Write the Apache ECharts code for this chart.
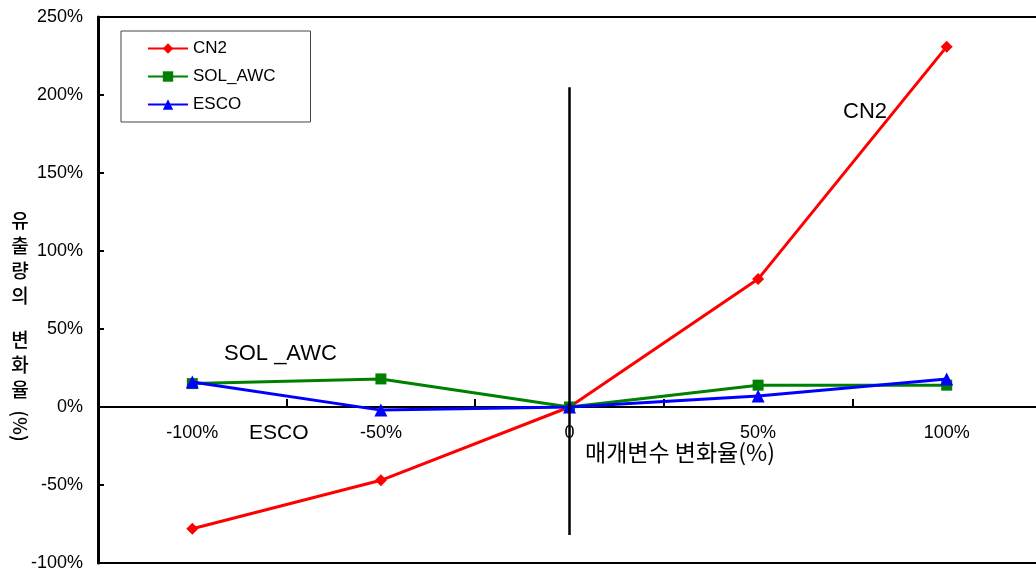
<!DOCTYPE html>
<html>
<head>
<meta charset="utf-8">
<script src="https://cdn.jsdelivr.net/npm/echarts@6/dist/echarts.min.js"></script>
<style>
  html, body { margin: 0; padding: 0; background: #fff; }
  #main { width: 1036px; height: 572px; }
</style>
</head>
<body>
<div id="main"></div>
<script>
const categories = ["-100%", "-50%", "0", "50%", "100%"];
const cn2 = [-78, -47, 0, 82, 231];
const solAwc = [15, 18, 0, 14, 14];
const esco = [16, -2, 0, 7, 18];
const dividerRange = [205, -82]; // vertical line drawn at category "0"

const yMin = -100;
const yMax = 250;

const font = "'Liberation Sans', 'Noto Sans CJK KR', sans-serif";
const krFont = "'Noto Sans CJK KR', sans-serif";

const gridTop = 17;
const gridBottom = 9;
const gridHeight = 572 - gridTop - gridBottom;
// lift the category axis up to the y = 0 line
const zeroOffset = (gridHeight * (0 - yMin)) / (yMax - yMin);

const myChart = echarts.init(document.getElementById("main"));

const option = {
  animation: false,
  legend: {
    orient: "vertical",
    left: 121,
    top: 31,
    itemWidth: 40,
    itemHeight: 13,
    itemGap: 11,
    padding: [9, 35, 9, 26],
    borderColor: "#444",
    borderWidth: 1,
    textStyle: { fontFamily: font, fontSize: 17, color: "#000" },
    data: ["CN2", "SOL_AWC", "ESCO"],
  },
  grid: {
    left: 98,
    top: gridTop,
    right: -5,
    bottom: gridBottom,
    outerBoundsMode: "none",
    containLabel: false,
    show: true,
    borderColor: "#000",
    borderWidth: 2,
  },
  xAxis: {
    type: "category",
    data: categories,
    boundaryGap: true,
    position: "bottom",
    offset: -zeroOffset,
    axisLine: { onZero: false, lineStyle: { color: "#000", width: 2 } },
    axisTick: {
      show: true,
      interval: 0,
      alignWithLabel: false,
      inside: true,
      length: 8,
      lineStyle: { color: "#000", width: 2 },
    },
    axisLabel: { color: "#000", fontFamily: font, fontSize: 18, margin: 17 },
    splitLine: { show: false },
  },
  yAxis: {
    type: "value",
    min: yMin,
    max: yMax,
    interval: 50,
    axisLine: { show: true, lineStyle: { color: "#000", width: 3 } },
    axisTick: { show: true, inside: true, length: 6, lineStyle: { color: "#000", width: 2 } },
    axisLabel: {
      color: "#000",
      fontFamily: font,
      fontSize: 18,
      margin: 15,
      formatter: (v) => v + "%",
    },
    splitLine: { show: false },
  },
  series: [
    {
      name: "CN2",
      type: "line",
      data: cn2,
      symbol: "diamond",
      symbolSize: 12,
      color: "#ff0000",
      lineStyle: { width: 3 },
      z: 2,
      markLine: {
        silent: true,
        symbol: "none",
        label: { show: false },
        lineStyle: { color: "#000", width: 2.5, type: "solid" },
        data: [[{ coord: ["0", dividerRange[0]] }, { coord: ["0", dividerRange[1]] }]],
      },
    },
    {
      name: "SOL_AWC",
      type: "line",
      data: solAwc,
      symbol: "rect",
      symbolSize: 11,
      color: "#008000",
      lineStyle: { width: 3 },
      z: 3,
    },
    {
      name: "ESCO",
      type: "line",
      data: esco,
      symbol: "triangle",
      symbolSize: 13,
      color: "#0000ff",
      lineStyle: { width: 3 },
      z: 4,
    },
  ],
  graphic: [
    {
      type: "text",
      left: 843,
      top: 101,
      style: { text: "CN2", font: "22px " + font, fill: "#000" },
    },
    {
      type: "text",
      left: 224,
      top: 343,
      style: { text: "SOL _AWC", font: "22px " + font, fill: "#000" },
    },
    {
      type: "text",
      left: 249,
      top: 423,
      style: { text: "ESCO", font: "21px " + font, fill: "#000" },
    },
    {
      type: "text",
      left: 585,
      top: 441,
      style: { text: "매개변수 변화율(%)", font: "23px " + krFont, fill: "#000" },
    },
    {
      type: "text",
      x: 20,
      y: 208,
      style: {
        text: "유\n출\n량\n의",
        font: "500 19px " + krFont,
        fill: "#000",
        lineHeight: 25,
        align: "center",
      },
    },
    {
      type: "text",
      x: 20,
      y: 327,
      style: {
        text: "변\n화\n율",
        font: "500 19px " + krFont,
        fill: "#000",
        lineHeight: 25,
        align: "center",
      },
    },
    {
      type: "text",
      x: 20,
      y: 426,
      rotation: -Math.PI / 2,
      style: {
        text: "(%)",
        font: "500 19px " + krFont,
        fill: "#000",
        align: "center",
        verticalAlign: "middle",
      },
    },
  ],
};

myChart.setOption(option);
</script>
</body>
</html>
